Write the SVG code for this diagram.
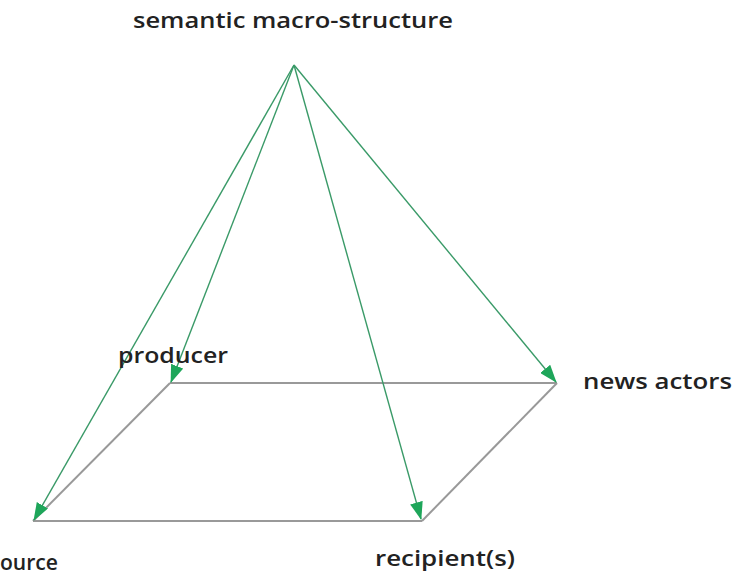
<svg xmlns="http://www.w3.org/2000/svg" width="749" height="579" viewBox="0 0 749 579">
<style>
.lbl{font-family:"Open Sans","Noto Sans","DejaVu Sans",sans-serif;font-weight:600;font-size:22px;fill:#222}
.base{stroke:#999;stroke-width:2;fill:none}
.arr{stroke:#3a9a68;stroke-width:1.4;fill:none;marker-end:url(#ah)}
</style>
<defs>
<marker id="ah" viewBox="0 0 18 13" refX="17" refY="6.5" markerWidth="18" markerHeight="13" markerUnits="userSpaceOnUse" orient="auto">
<path d="M0,0 L18,6.5 L0,13 Z" fill="#1ea65a"/>
</marker>
</defs>
<rect width="749" height="579" fill="#fff"/>
<g id="connectors">
<line class="base" x1="170" y1="383" x2="557" y2="383"/>
<line class="base" x1="33" y1="521" x2="422" y2="521"/>
<line class="base" x1="170" y1="383" x2="33" y2="521"/>
<line class="base" x1="557" y1="383" x2="422" y2="521"/>
<line class="arr" x1="294" y1="65" x2="34" y2="520"/>
<line class="arr" x1="294" y1="65" x2="171" y2="382"/>
<line class="arr" x1="294" y1="65" x2="421" y2="519"/>
<line class="arr" x1="294" y1="65" x2="556" y2="382"/>
</g>
<g id="apex"><text class="lbl" x="133" y="28" textLength="320" lengthAdjust="spacingAndGlyphs">semantic macro-structure</text></g>
<g id="producer"><text class="lbl" x="118" y="363" textLength="110" lengthAdjust="spacingAndGlyphs">producer</text></g>
<g id="news-actors"><text class="lbl" x="583" y="389" textLength="149" lengthAdjust="spacingAndGlyphs">news actors</text></g>
<g id="recipients"><text class="lbl" x="375" y="566" textLength="140" lengthAdjust="spacingAndGlyphs">recipient(s)</text></g>
<g id="source"><text class="lbl" x="0" y="570" textLength="58" lengthAdjust="spacingAndGlyphs">ource</text></g>
</svg>
